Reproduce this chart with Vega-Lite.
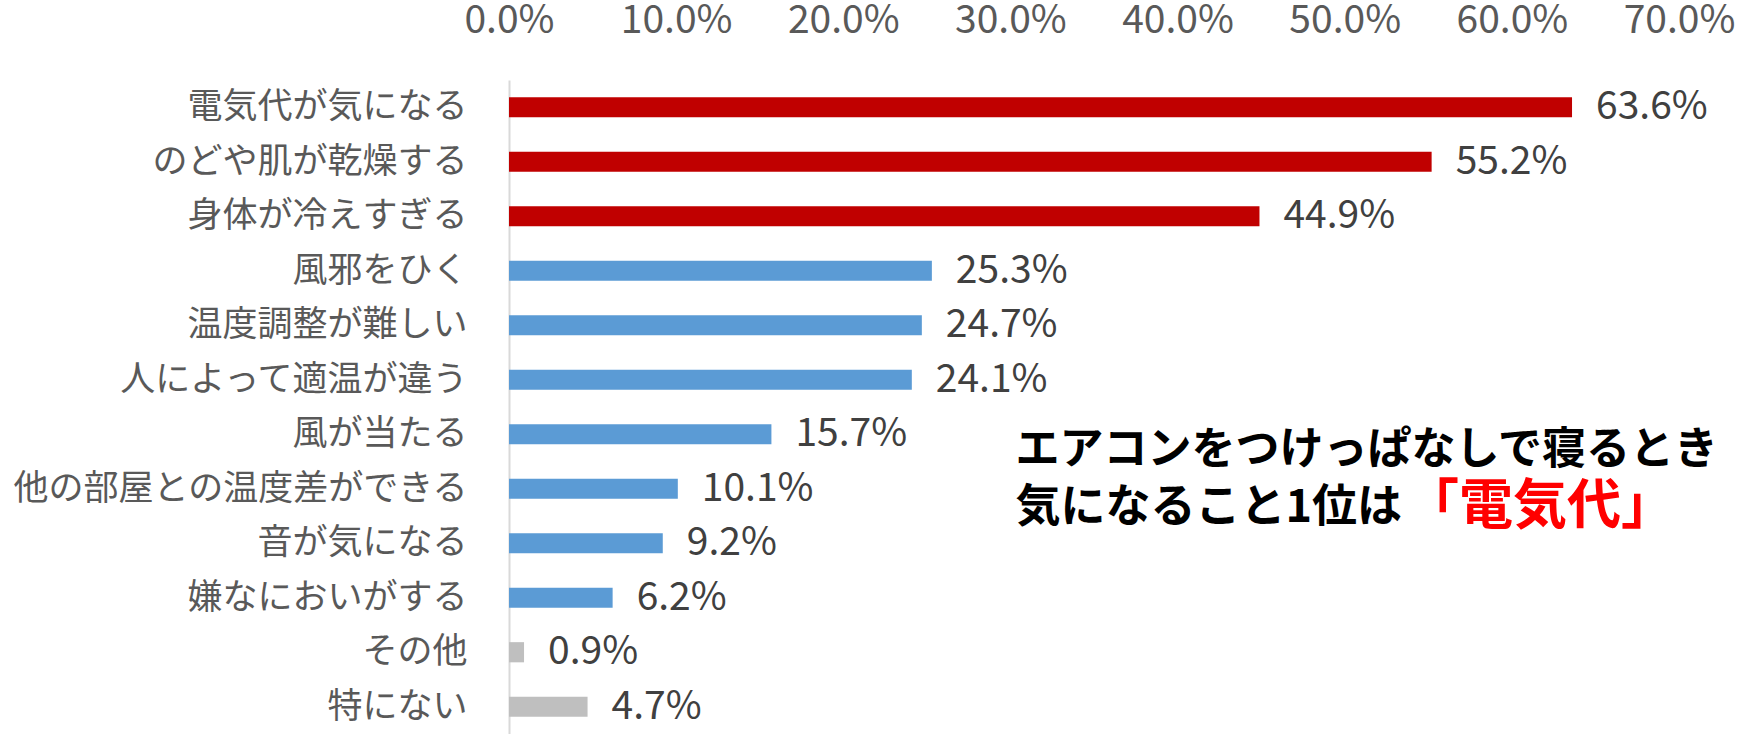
{
  "$schema": "https://vega.github.io/schema/vega-lite/v6.json",
  "width": 1170,
  "height": 654,
  "autosize": {"type": "none"},
  "padding": {"left": 509, "top": 80, "right": 65, "bottom": 0},
  "background": "white",
  "config": {"view": {"stroke": null}, "font": "Noto Sans CJK JP"},
  "datasets": {
    "main": [
      {"item": "電気代が気になる", "pct": 63.6, "group": "top"},
      {"item": "のどや肌が乾燥する", "pct": 55.2, "group": "top"},
      {"item": "身体が冷えすぎる", "pct": 44.9, "group": "top"},
      {"item": "風邪をひく", "pct": 25.3, "group": "mid"},
      {"item": "温度調整が難しい", "pct": 24.7, "group": "mid"},
      {"item": "人によって適温が違う", "pct": 24.1, "group": "mid"},
      {"item": "風が当たる", "pct": 15.7, "group": "mid"},
      {"item": "他の部屋との温度差ができる", "pct": 10.1, "group": "mid"},
      {"item": "音が気になる", "pct": 9.2, "group": "mid"},
      {"item": "嫌なにおいがする", "pct": 6.2, "group": "mid"},
      {"item": "その他", "pct": 0.9, "group": "misc"},
      {"item": "特にない", "pct": 4.7, "group": "misc"}
    ],
    "note1": [{"t": "エアコンをつけっぱなしで寝るとき"}],
    "note2": [{"t": "気になること1位は"}],
    "note3": [{"t": "「電気代」"}]
  },
  "data": {"name": "main"},
  "layer": [
    {
      "mark": {"type": "bar"},
      "encoding": {
        "y": {
          "field": "item", "type": "nominal", "sort": null,
          "scale": {"paddingInner": 0.63, "paddingOuter": 0.315},
          "axis": {
            "title": null, "domain": true, "domainColor": "#D9D9D9", "domainWidth": 2,
            "ticks": false, "labelFontSize": 35, "labelColor": "#595959",
            "labelPadding": 42, "labelLimit": 600, "labelFont": "Noto Sans CJK JP"
          }
        },
        "x": {
          "field": "pct", "type": "quantitative",
          "scale": {"domain": [0, 70], "nice": false},
          "axis": {
            "orient": "top", "values": [0, 10, 20, 30, 40, 50, 60, 70],
            "labelExpr": "format(datum.value, '.1f') + '%'",
            "grid": false, "domain": false, "ticks": false, "tickSize": 0,
            "labelFlush": false, "labelOverlap": false, "labelAlign": "center",
            "labelPadding": 40, "labelFontSize": 39, "labelColor": "#595959",
            "labelFont": "Noto Sans CJK JP", "title": null
          }
        },
        "color": {
          "field": "group", "type": "nominal",
          "scale": {"domain": ["top", "mid", "misc"], "range": ["#C00000", "#5B9BD5", "#BFBFBF"]},
          "legend": null
        }
      }
    },
    {
      "mark": {
        "type": "text", "align": "left", "baseline": "middle", "dx": 24,
        "fontSize": 39, "color": "#404040",
        "text": {"expr": "format(datum.pct, '.1f') + '%'"}
      },
      "encoding": {
        "y": {"field": "item", "type": "nominal", "sort": null},
        "x": {"field": "pct", "type": "quantitative"}
      }
    },
    {
      "data": {"name": "note1"},
      "mark": {"type": "text", "align": "left", "baseline": "middle", "dy": 17, "fontSize": 44, "fontWeight": "bold", "color": "#000000"},
      "encoding": {
        "x": {"datum": 30.3, "type": "quantitative"},
        "y": {"datum": "風が当たる", "type": "nominal"},
        "text": {"field": "t"}
      }
    },
    {
      "data": {"name": "note2"},
      "mark": {"type": "text", "align": "left", "baseline": "middle", "dy": 19, "fontSize": 45, "fontWeight": "bold", "color": "#000000"},
      "encoding": {
        "x": {"datum": 30.3, "type": "quantitative"},
        "y": {"datum": "他の部屋との温度差ができる", "type": "nominal"},
        "text": {"field": "t"}
      }
    },
    {
      "data": {"name": "note3"},
      "mark": {"type": "text", "align": "left", "baseline": "middle", "dy": 19, "fontSize": 54, "fontWeight": "bold", "color": "#FF0000"},
      "encoding": {
        "x": {"datum": 53.6, "type": "quantitative"},
        "y": {"datum": "他の部屋との温度差ができる", "type": "nominal"},
        "text": {"field": "t"}
      }
    }
  ]
}
